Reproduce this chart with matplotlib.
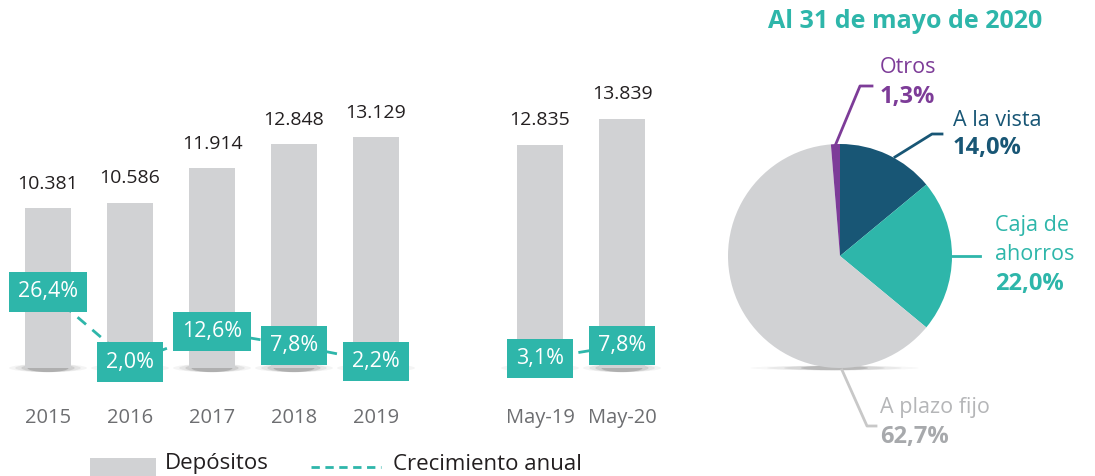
import matplotlib
matplotlib.use("Agg")
import matplotlib.pyplot as plt
from matplotlib.patches import Ellipse, Rectangle
from matplotlib.lines import Line2D

plt.rcParams['font.family'] = ['Open Sans', 'DejaVu Sans']

# ---- data ----
categories = ["2015", "2016", "2017", "2018", "2019", "May-19", "May-20"]
positions = [0, 1, 2, 3, 4, 6, 7]
depositos = [10381, 10586, 11914, 12848, 13129, 12835, 13839]
dep_labels = ["10.381", "10.586", "11.914", "12.848", "13.129", "12.835", "13.839"]
crecimiento = [26.4, 2.0, 12.6, 7.8, 2.2, 3.1, 7.8]
crec_labels = ["26,4%", "2,0%", "12,6%", "7,8%", "2,2%", "3,1%", "7,8%"]

pie_names = ["A la vista", "Caja de\nahorros", "A plazo fijo", "Otros"]
pie_values = [14.0, 22.0, 62.7, 1.3]
pie_labels = ["14,0%", "22,0%", "62,7%", "1,3%"]
pie_title = "Al 31 de mayo de 2020"

TEAL = "#2EB6AA"
NAVY = "#185675"
GRAY = "#D1D2D4"
PURPLE = "#7D3C98"
DARK = "#231F20"
TICK = "#6D6E71"

W, H = 1095, 476
fig = plt.figure(figsize=(W / 100, H / 100), dpi=100)

def fx(x):
    return x / W

def fy(y):
    return 1 - y / H

# ---- bar chart ----
ax_l, ax_r, ax_b, ax_t = 7, 663, 368, 40
ax = fig.add_axes([fx(ax_l), fy(ax_b), fx(ax_r - ax_l), (ax_b - ax_t) / H])
ax.set_xlim(-0.5, 7.5)
ax.set_ylim(4189, 4189 + (ax_b - ax_t) / 0.02584)
ax.bar(positions, depositos, width=0.56, color=GRAY, zorder=2)
for p, v, lab in zip(positions, depositos, dep_labels):
    ax.annotate(lab, (p, v), xytext=(0, 11), textcoords="offset points",
                ha="center", va="bottom", fontsize=14, color=DARK)
# shadows under bars
for p in positions:
    for w, a in [(0.95, 0.05), (0.8, 0.08), (0.65, 0.12), (0.5, 0.2)]:
        e = Ellipse((p, 0.0), w, 0.025, transform=ax.get_xaxis_transform(),
                    facecolor="#333333", alpha=a, edgecolor="none", clip_on=False, zorder=1)
        ax.add_patch(e)
ax.set_xticks(positions)
ax.set_xticklabels(categories, fontsize=14.5, color=TICK)
ax.tick_params(axis="x", length=0, pad=29)
ax.set_yticks([])
for s in ax.spines.values():
    s.set_visible(False)

ax2 = ax.twinx()
ax2.set_ylim(-0.09, -0.09 + (ax_b - ax_t) / 2.87)
ax2.set_yticks([])
for s in ax2.spines.values():
    s.set_visible(False)
ax2.plot(positions[:5], crecimiento[:5], color=TEAL, lw=2, ls=(0, (4, 3)), zorder=3)
ax2.plot(positions[5:], crecimiento[5:], color=TEAL, lw=2, ls=(0, (4, 3)), zorder=3)
for p, g, lab in zip(positions, crecimiento, crec_labels):
    ax2.text(p, g, lab, ha="center", va="center", fontsize=15.5, color="white", zorder=4,
             bbox=dict(boxstyle="square,pad=0.42", facecolor=TEAL, edgecolor="none"))

# ---- legend ----
fig.patches.append(Rectangle((fx(90), fy(476)), fx(66), 18 / H, transform=fig.transFigure,
                             facecolor=GRAY, edgecolor="none"))
fig.text(fx(165), fy(464), "Depósitos", fontsize=16, color=DARK, va="center", ha="left")
fig.lines.append(Line2D([fx(311), fx(381)], [fy(467), fy(467)], transform=fig.transFigure,
                        color=TEAL, lw=2, ls=(0, (3, 2))))
fig.text(fx(393), fy(464), "Crecimiento anual", fontsize=16, color=DARK, va="center", ha="left")

# ---- pie ----
cx, cy, r = 840, 256, 112
pax = fig.add_axes([fx(cx - r), fy(cy + r), fx(2 * r), 2 * r / H])
for w, a in [(1.5, 0.04), (1.2, 0.07), (0.9, 0.1), (0.6, 0.18)]:
    pax.add_patch(Ellipse((-0.05, -1.0), w, 0.04, facecolor="#333333", alpha=a,
                          edgecolor="none", clip_on=False, zorder=0))
pax.pie(pie_values, colors=[NAVY, TEAL, GRAY, PURPLE], startangle=90, counterclock=False,
        radius=1, wedgeprops=dict(linewidth=0), frame=False)
pax.set_xlim(-1, 1)
pax.set_ylim(-1, 1)
pax.set_aspect("auto")
pax.axis("off")

fig.text(fx(905), fy(22), pie_title, fontsize=18, fontweight="bold", color=TEAL,
         ha="center", va="center")

def leader(pts, color):
    fig.lines.append(Line2D([fx(p[0]) for p in pts], [fy(p[1]) for p in pts],
                            transform=fig.transFigure, color=color, lw=2))

leader([(835, 146), (860, 86), (872, 86)], PURPLE)
leader([(895, 157), (932, 134), (942, 134)], NAVY)
leader([(952, 256), (980, 256)], TEAL)
leader([(842, 370), (867, 426), (876, 426)], "#C8C8C8")

fs = 15.5
fb = 17
fig.text(fx(880), fy(68), pie_names[3], fontsize=fs, color=PURPLE, va="center")
fig.text(fx(880), fy(97), pie_labels[3], fontsize=fb, color=PURPLE, va="center", fontweight="bold")
fig.text(fx(953), fy(120), pie_names[0], fontsize=fs, color=NAVY, va="center")
fig.text(fx(953), fy(148), pie_labels[0], fontsize=fb, color=NAVY, va="center", fontweight="bold")
fig.text(fx(995), fy(226), "Caja de", fontsize=fs, color=TEAL, va="center")
fig.text(fx(995), fy(255), "ahorros", fontsize=fs, color=TEAL, va="center")
fig.text(fx(995), fy(284), pie_labels[1], fontsize=fb, color=TEAL, va="center", fontweight="bold")
fig.text(fx(880), fy(408), pie_names[2], fontsize=fs, color="#B5B6B8", va="center")
fig.text(fx(880), fy(437), pie_labels[2], fontsize=fb, color="#A7A9AC", va="center", fontweight="bold")

fig.savefig("out.png", dpi=100)
